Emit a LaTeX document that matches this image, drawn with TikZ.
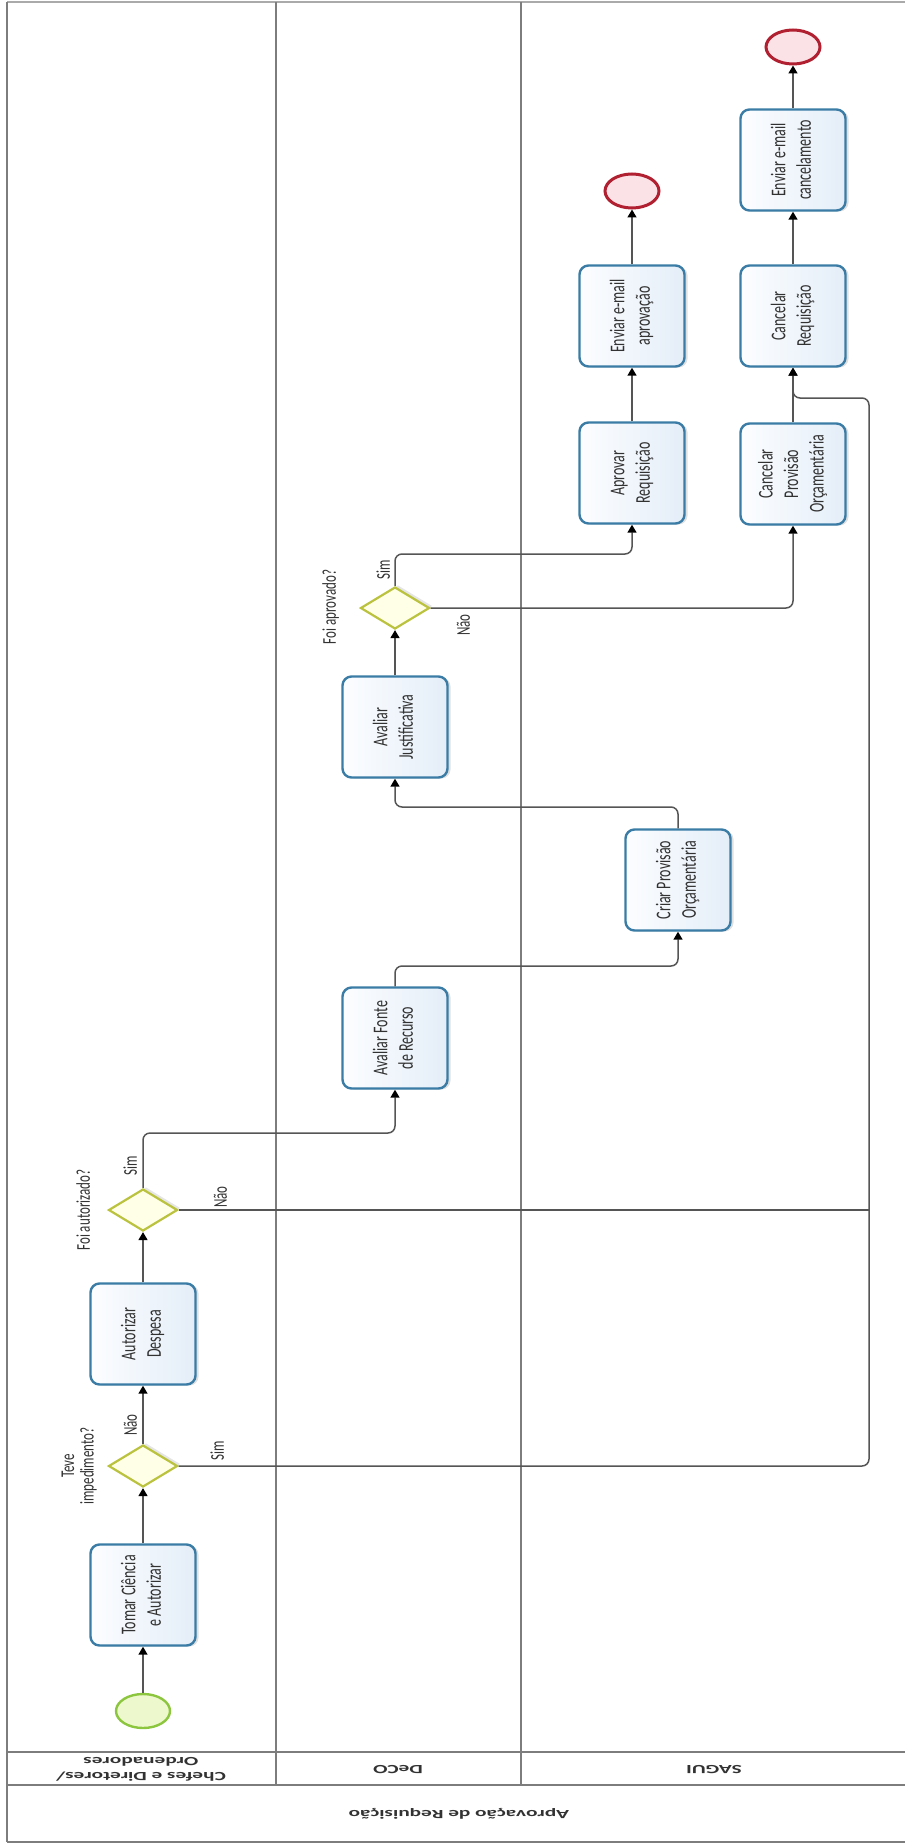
\documentclass[tikz,border=0pt]{standalone}
\usepackage{fontspec}
\setmainfont{Carlito}
\usepackage{graphicx}
\usetikzlibrary{shapes.geometric,arrows.meta,shadows}

\definecolor{laneline}{RGB}{125,125,125}
\definecolor{frameline}{RGB}{170,170,170}
\definecolor{flowline}{RGB}{85,85,85}
\definecolor{taskborder}{RGB}{58,124,165}
\definecolor{taskfillA}{RGB}{252,253,255}
\definecolor{taskfillB}{RGB}{228,238,248}
\definecolor{gwborder}{RGB}{186,194,62}
\definecolor{gwfill}{RGB}{255,255,232}
\definecolor{startborder}{RGB}{140,198,63}
\definecolor{startfill}{RGB}{238,248,205}
\definecolor{endborder}{RGB}{176,32,48}
\definecolor{endfill}{RGB}{250,226,230}
\definecolor{txt}{RGB}{50,50,50}

% text of the tasks: turned to read upwards, widened across the line
\newcommand{\tasktext}[1]{\rotatebox{90}{\scalebox{1}[1.5]{\fontsize{14pt}{17pt}\selectfont\begin{tabular}{@{}c@{}}#1\end{tabular}}}}
% labels of gateways and flows
\newcommand{\flowlabel}[1]{\rotatebox{90}{\scalebox{1}[1.5]{\fontsize{13pt}{13pt}\selectfont\begin{tabular}{@{}c@{}}#1\end{tabular}}}}
% lane and pool titles, upside down
\newcommand{\lanetext}[1]{\rotatebox{180}{\scalebox{1.7}[1]{\fontsize{12.5pt}{15pt}\selectfont\bfseries\begin{tabular}{@{}c@{}}#1\end{tabular}}}}

\begin{document}
\begin{tikzpicture}[x=1pt,y=-1pt,
  every node/.style={text=txt},
  task/.style={rectangle, rounded corners=9pt, draw=taskborder, line width=2.4pt,
    left color=taskfillA, right color=taskfillB,
    minimum width=105pt, minimum height=101pt, inner sep=0pt,
    drop shadow={shadow xshift=3pt, shadow yshift=-1pt, fill=black, opacity=0.12}},
  gateway/.style={diamond, draw=gwborder, fill=gwfill, line width=2.2pt,
    minimum width=69pt, minimum height=42pt, inner sep=0pt,
    drop shadow={shadow xshift=3pt, shadow yshift=2pt, fill=black, opacity=0.10}},
  startev/.style={ellipse, draw=startborder, fill=startfill, line width=2.4pt,
    minimum width=54pt, minimum height=34pt, inner sep=0pt},
  endev/.style={ellipse, draw=endborder, fill=endfill, line width=3pt,
    minimum width=54pt, minimum height=34pt, inner sep=0pt},
  flow/.style={draw=flowline, line width=1.5pt, rounded corners=7pt,
    -{Triangle[width=9pt,length=8pt,color=black]}},
  seqline/.style={draw=flowline, line width=1.5pt, rounded corners=7pt},
  lbl/.style={inner sep=0pt},
  lanerule/.style={draw=laneline, line width=2pt}
]
\useasboundingbox (0,0) rectangle (905,1843);

% pool frame, lane dividers and title bands
\draw[draw=frameline, line width=2.5pt] (7,2) -- (905,2);
\draw[lanerule] (7,2) -- (7,1842);
\draw[lanerule] (7,1752) -- (905,1752);
\draw[lanerule] (7,1785) -- (905,1785);
\draw[lanerule] (7,1842) -- (905,1842);
\draw[lanerule] (276,2) -- (276,1785);
\draw[lanerule] (521,2) -- (521,1785);

\node[lbl] (lane1) at (141,1768) {\lanetext{Chefes e Diretores/\\Ordenadores}};
\node[lbl] (lane2) at (398,1768) {\lanetext{DeCO}};
\node[lbl] (lane3) at (714,1768) {\lanetext{SAGUI}};
\node[lbl] (pool)  at (459,1813) {\lanetext{Aprovação de Requisição}};

% lane 1
\node[startev] (start) at (143,1711) {};
\node[task] (tomar) at (143,1595) {\tasktext{Tomar Ciência\\e Autorizar}};
\node[gateway] (gw1) at (143,1466) {};
\node[task] (autorizar) at (143,1334) {\tasktext{Autorizar\\Despesa}};
\node[gateway] (gw2) at (143,1210) {};

% lane 2
\node[task] (avfonte) at (395,1038) {\tasktext{Avaliar Fonte\\de Recurso}};
\node[task] (avjust) at (395,727) {\tasktext{Avaliar\\Justificativa}};
\node[gateway] (gw3) at (395,608) {};

% lane 3
\node[task] (criar) at (678,880) {\tasktext{Criar Provisão\\Orçamentária}};
\node[task] (aprovar) at (632,473) {\tasktext{Aprovar\\Requisição}};
\node[task] (envaprov) at (632,316) {\tasktext{Enviar e-mail\\aprovação}};
\node[endev] (end1) at (632,191) {};
\node[task] (cancprov) at (793,474) {\tasktext{Cancelar\\Provisão\\Orçamentária}};
\node[task] (cancreq) at (793,316) {\tasktext{Cancelar\\Requisição}};
\node[task] (envcanc) at (793,160) {\tasktext{Enviar e-mail\\cancelamento}};
\node[endev] (end2) at (793,47) {};

% gateway questions and branch labels
\node[lbl] (q1) at (80,1466) {\flowlabel{Teve\\impedimento?}};
\node[lbl] (q2) at (86,1210) {\flowlabel{Foi autorizado?}};
\node[lbl] (q3) at (332,607) {\flowlabel{Foi aprovado?}};
\node[lbl] (l1nao) at (133,1425) {\flowlabel{Não}};
\node[lbl] (l1sim) at (220,1451) {\flowlabel{Sim}};
\node[lbl] (l2sim) at (133,1166) {\flowlabel{Sim}};
\node[lbl] (l2nao) at (223,1197) {\flowlabel{Não}};
\node[lbl] (l3sim) at (386,570) {\flowlabel{Sim}};
\node[lbl] (l3nao) at (466,625) {\flowlabel{Não}};

% bend points of the routed flows
\coordinate (b1) at (395,1133);
\coordinate (b2) at (678,966);
\coordinate (b3) at (395,807);
\coordinate (b4) at (632,554);
\coordinate (b5) at (869,398);

% sequence flows
\draw[flow] (start) -- (tomar);
\draw[flow] (tomar) -- (gw1);
\draw[flow] (gw1) -- (autorizar);
\draw[flow] (autorizar) -- (gw2);
\draw[flow] (gw2.north) |- (b1) -- (avfonte.south);
\draw[flow] (avfonte.north) |- (b2) -- (criar.south);
\draw[flow] (criar.north) |- (b3) -- (avjust.south);
\draw[flow] (avjust) -- (gw3);
\draw[flow] (gw3.north) |- (b4) -- (aprovar.south);
\draw[flow] (gw3.east) -| (cancprov.south);
\draw[flow] (aprovar) -- (envaprov);
\draw[flow] (envaprov) -- (end1);
\draw[flow] (cancprov) -- (cancreq);
\draw[flow] (cancreq) -- (envcanc);
\draw[flow] (envcanc) -- (end2);
\draw[flow] (gw1.east) -| (b5) -| (cancreq.south);
\draw[seqline] (gw2.east) -- (gw2.east -| b5);
\end{tikzpicture}
\end{document}
